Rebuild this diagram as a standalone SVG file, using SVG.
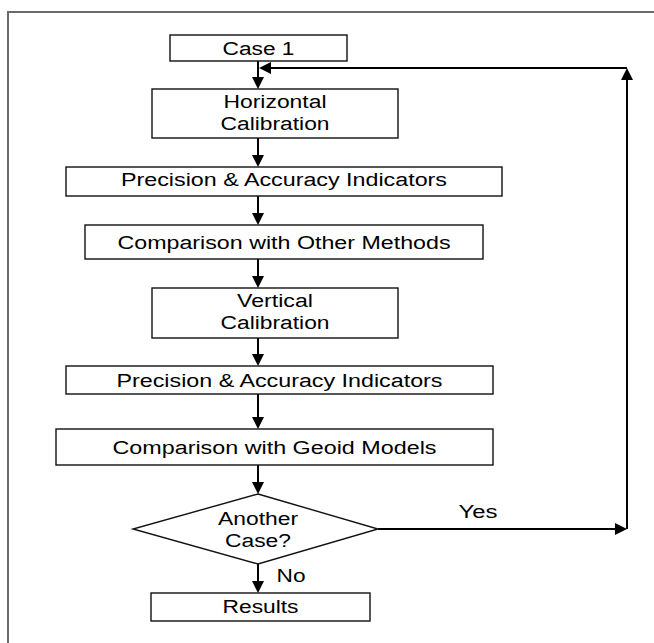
<svg xmlns="http://www.w3.org/2000/svg" width="654" height="643" viewBox="0 0 654 643">
<style>
.box{fill:#fff;stroke:#111;stroke-width:1.4}
.t{font-family:"Liberation Sans",Arial,sans-serif;font-size:18px;fill:#000;text-anchor:middle}
.c{fill:none;stroke:#000;stroke-width:2}
.frame{fill:none;stroke:#6a6a6a;stroke-width:2}
</style>
<defs>
<marker id="ah" markerUnits="userSpaceOnUse" markerWidth="12" markerHeight="12" refX="6" refY="6" orient="auto" viewBox="0 0 12 12">
<path d="M0,0 L12,6 L0,12 z" fill="#000"/>
</marker>
</defs>
<rect width="654" height="643" fill="#fff"/>
<path class="frame" d="M8,643 L8,12 L654,12"/>
<g id="connectors">
<line class="c" x1="258" y1="61" x2="258" y2="83" marker-end="url(#ah)"/>
<line class="c" x1="258" y1="138" x2="258" y2="161" marker-end="url(#ah)"/>
<line class="c" x1="258" y1="196" x2="258" y2="219" marker-end="url(#ah)"/>
<line class="c" x1="258" y1="259" x2="258" y2="282" marker-end="url(#ah)"/>
<line class="c" x1="258" y1="338" x2="258" y2="360" marker-end="url(#ah)"/>
<line class="c" x1="258" y1="394" x2="258" y2="423" marker-end="url(#ah)"/>
<line class="c" x1="258" y1="465" x2="258" y2="488" marker-end="url(#ah)"/>
<line class="c" x1="258" y1="564" x2="258" y2="587" marker-end="url(#ah)"/>
<line class="c" x1="378" y1="529" x2="621" y2="529" marker-end="url(#ah)"/>
<line class="c" x1="627" y1="529" x2="627" y2="74" marker-end="url(#ah)"/>
<line class="c" x1="627" y1="68" x2="265" y2="68" marker-end="url(#ah)"/>
<text class="t" x="478" y="518" textLength="39" lengthAdjust="spacingAndGlyphs">Yes</text>
<text class="t" x="291" y="582" textLength="29" lengthAdjust="spacingAndGlyphs">No</text>
</g>
<g id="case1">
<rect class="box" x="170" y="35" width="177" height="26"/>
<text class="t" x="258.5" y="54.5" textLength="72" lengthAdjust="spacingAndGlyphs">Case 1</text>
</g>
<g id="horizontal">
<rect class="box" x="152" y="89" width="246" height="49"/>
<text class="t" x="275" y="108" textLength="103" lengthAdjust="spacingAndGlyphs">Horizontal</text>
<text class="t" x="275" y="130" textLength="109" lengthAdjust="spacingAndGlyphs">Calibration</text>
</g>
<g id="precision1">
<rect class="box" x="66" y="167" width="436" height="29"/>
<text class="t" x="284" y="186" textLength="326" lengthAdjust="spacingAndGlyphs">Precision &amp; Accuracy Indicators</text>
</g>
<g id="comparison-other">
<rect class="box" x="85" y="225" width="398" height="34"/>
<text class="t" x="284" y="248.5" textLength="333" lengthAdjust="spacingAndGlyphs">Comparison with Other Methods</text>
</g>
<g id="vertical">
<rect class="box" x="152" y="288" width="246" height="50"/>
<text class="t" x="275" y="307" textLength="76" lengthAdjust="spacingAndGlyphs">Vertical</text>
<text class="t" x="275" y="329" textLength="109" lengthAdjust="spacingAndGlyphs">Calibration</text>
</g>
<g id="precision2">
<rect class="box" x="66" y="366" width="427" height="28"/>
<text class="t" x="279.5" y="386.5" textLength="326" lengthAdjust="spacingAndGlyphs">Precision &amp; Accuracy Indicators</text>
</g>
<g id="comparison-geoid">
<rect class="box" x="56" y="429" width="437" height="36"/>
<text class="t" x="274.5" y="453.5" textLength="324" lengthAdjust="spacingAndGlyphs">Comparison with Geoid Models</text>
</g>
<g id="another-case">
<polygon class="box" points="258,494 378,529 258,564 133,529"/>
<text class="t" x="258" y="525" textLength="80" lengthAdjust="spacingAndGlyphs">Another</text>
<text class="t" x="258" y="547" textLength="66" lengthAdjust="spacingAndGlyphs">Case?</text>
</g>
<g id="results">
<rect class="box" x="151" y="593" width="219" height="28"/>
<text class="t" x="260.5" y="613" textLength="76" lengthAdjust="spacingAndGlyphs">Results</text>
</g>
</svg>
